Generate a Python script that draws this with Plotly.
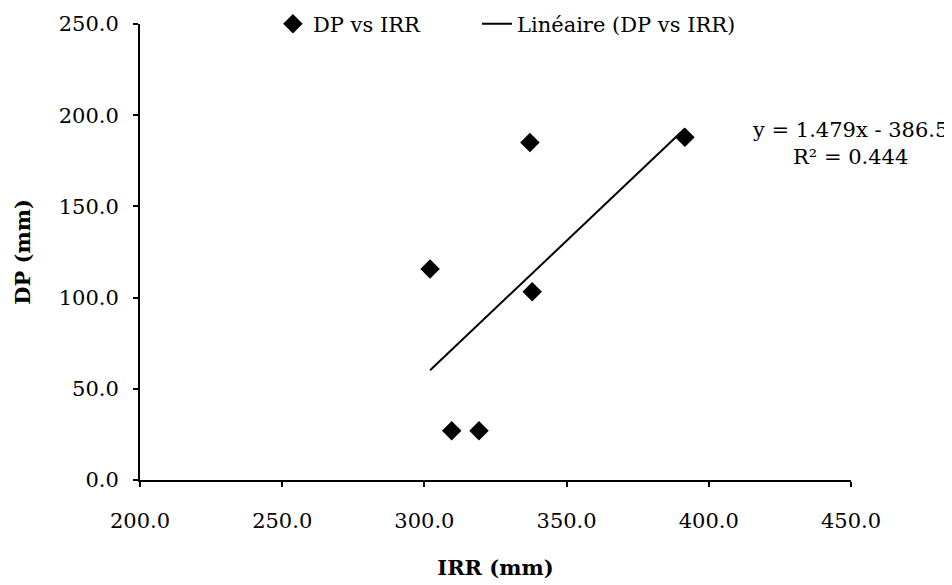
import plotly.graph_objects as go

# Data
irr = [302.0, 309.6, 319.2, 337.1, 337.9, 391.6]
dp = [115.7, 27.0, 27.0, 185.1, 103.2, 187.9]
slope = 1.479
intercept = -386.5
x_ticks = [200, 250, 300, 350, 400, 450]
y_ticks = [0, 50, 100, 150, 200, 250]

FONT = "DejaVu Serif"
FS = 21

x_line = [min(irr), max(irr)]
y_line = [slope * v + intercept for v in x_line]

fig = go.Figure()
fig.add_trace(go.Scatter(
    x=irr, y=dp, mode="markers", name="DP vs IRR",
    marker=dict(symbol="diamond", size=15, color="black"),
    legend="legend",
))
fig.add_trace(go.Scatter(
    x=x_line, y=y_line, mode="lines", name="Linéaire (DP vs IRR)",
    line=dict(color="black", width=2),
    legend="legend2",
))

fig.add_annotation(
    xref="paper", yref="paper", x=1.139, y=0.737,
    text="y = 1.479x - 386.5<br>R² = 0.444", showarrow=False,
    xanchor="right", yanchor="middle", align="center",
    font=dict(family=FONT, size=21, color="black"),
)

axis_common = dict(
    showgrid=False, zeroline=False, showline=True, linecolor="black", linewidth=2,
    ticks="outside", tickcolor="black", tickwidth=2, ticklen=5,
    tickformat=".1f", tickfont=dict(family=FONT, size=FS, color="black"),
)

fig.update_xaxes(
    range=[200, 450], tickvals=x_ticks, ticklabelstandoff=16,
    title=dict(text="<b>IRR (mm)</b>", font=dict(family=FONT, size=FS, color="black"), standoff=28),
    **axis_common,
)
fig.update_yaxes(
    range=[0, 250], tickvals=y_ticks, ticklabelstandoff=10,
    title=dict(text="<b>DP (mm)</b>", font=dict(family=FONT, size=FS, color="black"), standoff=22),
    **axis_common,
)

legend_common = dict(
    orientation="h", y=1.0, xanchor="left", yanchor="middle",
    font=dict(family=FONT, size=FS, color="black"),
    bgcolor="rgba(0,0,0,0)",
)

fig.update_layout(
    width=944, height=577,
    margin=dict(l=132, r=101, t=16, b=105, autoexpand=False),
    plot_bgcolor="white", paper_bgcolor="white",
    font=dict(family=FONT, size=FS, color="black"),
    showlegend=True,
    legend=dict(x=0.187, **legend_common),
    legend2=dict(x=0.474, **legend_common),
)

fig.write_html("out.html")
